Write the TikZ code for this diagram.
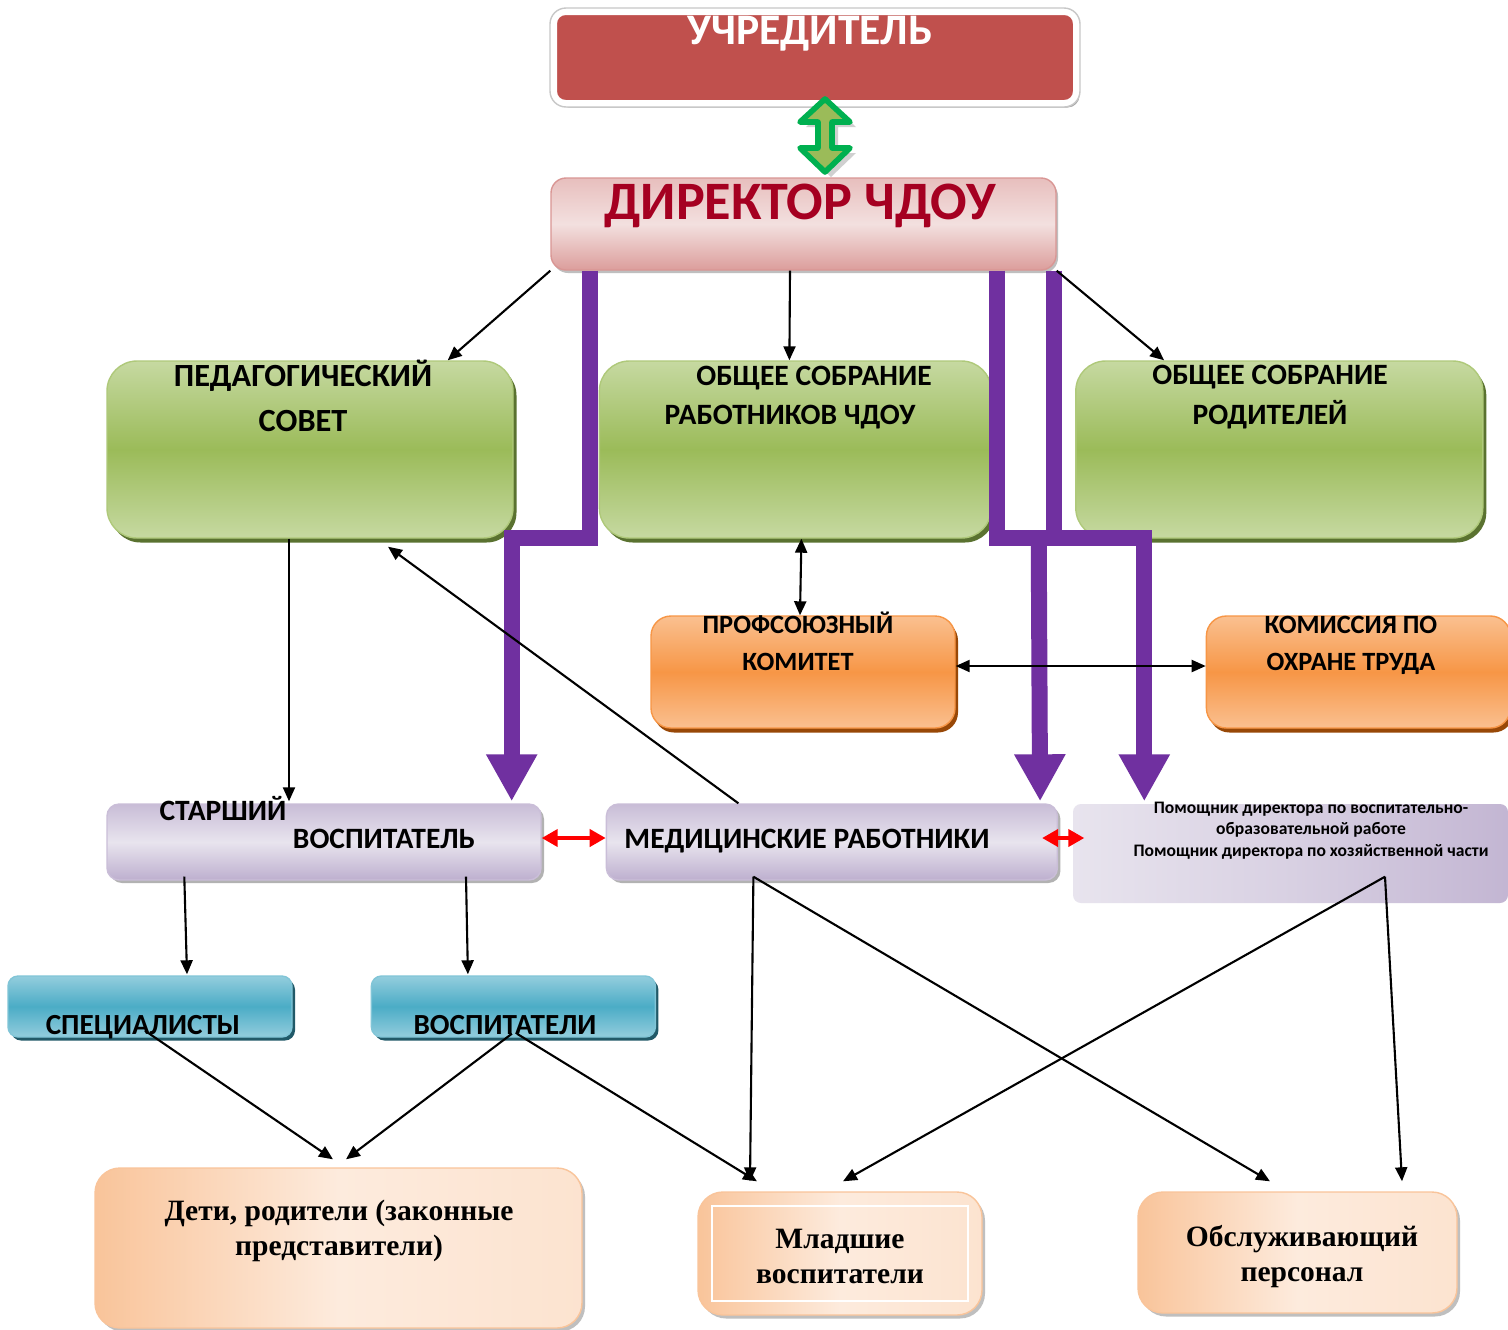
\documentclass[tikz,border=0pt]{standalone}
\usepackage{fontspec}
\setmainfont{Carlito}
\newfontfamily\serifru{Liberation Serif}
\usepackage{tikz}
\usetikzlibrary{arrows.meta,calc,positioning,shadows}
\definecolor{uchrred}{HTML}{C0504D}
\definecolor{dirtext}{HTML}{A50021}
\definecolor{dirlt}{HTML}{F3E0DF}
\definecolor{dirdk}{HTML}{D99694}
\definecolor{grn}{HTML}{9BBB59}
\definecolor{grnlt}{HTML}{C6D9A1}
\definecolor{grnsh}{HTML}{5A7230}
\definecolor{orn}{HTML}{F79646}
\definecolor{ornlt}{HTML}{FAC090}
\definecolor{ornsh}{HTML}{984807}
\definecolor{lav}{HTML}{B3A2C7}
\definecolor{lavlt}{HTML}{E8E4EE}
\definecolor{blu}{HTML}{4BACC6}
\definecolor{blult}{HTML}{93CDDD}
\definecolor{blush}{HTML}{215968}
\definecolor{pch}{HTML}{F9C49A}
\definecolor{pchlt}{HTML}{FDEBDD}
\definecolor{purp}{HTML}{7030A0}
\definecolor{zel}{HTML}{00B050}
\tikzset{
    %Define standard arrow tip
    >={Triangle[length=1.4mm,width=1.2mm]},
    %Define styles for boxes
    uchr/.style={
           rectangle,
           rounded corners=1.2mm,
           draw=white, line width=0.7mm,
           fill=uchrred,
           minimum width=52.3mm,
           minimum height=9.2mm,
           drop shadow={shadow xshift=0.3mm, shadow yshift=-0.4mm, fill=black!35, opacity=1}},
    rukov/.style={
           rectangle,
           rounded corners=1.5mm,
           draw=dirdk, thin,
           top color=dirdk!45!dirlt, bottom color=dirdk!90!dirlt, middle color=dirlt,
           minimum width=50.5mm,
           minimum height=9.2mm,
           drop shadow={shadow xshift=0.2mm, shadow yshift=-0.3mm, fill=black!25, opacity=1}},
    sovet/.style={
           rectangle,
           rounded corners=3mm,
           draw=grn!80!white, thin,
           top color=grnlt, bottom color=grnlt, middle color=grn,
           minimum height=17.7mm,
           drop shadow={shadow xshift=0.35mm, shadow yshift=-0.45mm, fill=grnsh, opacity=1}},
    profs/.style={
           rectangle,
           rounded corners=2mm,
           draw=orn, thin,
           top color=ornlt, bottom color=ornlt, middle color=orn,
           minimum width=30.4mm,
           minimum height=11.2mm,
           drop shadow={shadow xshift=0.3mm, shadow yshift=-0.45mm, fill=ornsh, opacity=1}},
    sotr/.style={
           rectangle,
           rounded corners=1.2mm,
           draw=lav!70!white, thin,
           top color=lav!60!lavlt, bottom color=lav!80!lavlt, middle color=lavlt,
           minimum height=7.6mm,
           drop shadow={shadow xshift=0.3mm, shadow yshift=-0.3mm, fill=black!30, opacity=1}},
    pomosh/.style={
           rectangle,
           rounded corners=0.8mm,
           left color=lavlt, right color=lav!70!lavlt, middle color=lavlt!70!lav,
           minimum width=43.5mm,
           minimum height=9.9mm},
    ped/.style={
           rectangle,
           rounded corners=1mm,
           draw=blu!70!white, thin,
           top color=blult, bottom color=blult, middle color=blu,
           minimum width=28.4mm,
           minimum height=6.1mm,
           drop shadow={shadow xshift=0.3mm, shadow yshift=-0.35mm, fill=blush, opacity=1}},
    nizh/.style={
           rectangle,
           rounded corners=2.5mm,
           draw=pch, thin,
           left color=pch, right color=pchlt!80!pch, middle color=pchlt,
           drop shadow={shadow xshift=0.3mm, shadow yshift=-0.35mm, fill=black!25, opacity=1}},
    % text styles
    nadp/.style={inner sep=0pt, anchor=base, align=center,
           font=\bfseries\fontsize{8.4}{11.1}\selectfont},
    ser/.style={inner sep=0pt, anchor=base, align=center,
           font=\serifru\bfseries\fontsize{8.4}{9.7}\selectfont},
    % Define arrow styles
    lin/.style={->, line width=0.6pt},
    dvu/.style={<->, line width=0.6pt},
    krasn/.style={{Triangle[length=1.6mm,width=1.7mm]}-{Triangle[length=1.6mm,width=1.7mm]},
           draw=red, line width=1.1pt},
    tolst/.style={draw=purp, line width=1.6mm}
}
\begin{document}
\begin{tikzpicture}[x=0.1mm,y=-0.1mm]
\useasboundingbox[fill=white] (0,0) rectangle (1508,1329);
% boxes
\node[uchr] (uchr) at (815,57.5) {};
\draw[black!22, line width=0.4pt, rounded corners=1.6mm] (uchr.north west) rectangle (uchr.south east);
\node[rukov] (rukov) at (803.5,224) {};
\node[sovet, minimum width=40.6mm] (psov) at (310,449.5) {};
\node[sovet, minimum width=39.2mm, right=8.5mm of psov] (osrab) {};
\node[sovet, minimum width=40.7mm, right=8.3mm of osrab] (osrod) {};
\node[profs] (prof) at (803,672) {};
\node[profs, right=25mm of prof] (kom) {};
\node[sotr, minimum width=43.4mm] (star) at (324,842) {};
\node[sotr, minimum width=45.1mm, right=6.4mm of star] (med) {};
\node[pomosh] (pom) at (1290.5,853.5) {};
\node[ped] (spec) at (150,1006.5) {};
\node[ped, right=7.8mm of spec] (vosp) {};
\node[nizh, minimum width=48.7mm, minimum height=16mm] (deti) at (338.5,1248) {};
\node[nizh, minimum width=28.4mm, minimum height=12.3mm] (mlad) at (840,1253.5) {};
\node[nizh, minimum width=31.9mm, minimum height=12.1mm] (obsl) at (1297.5,1252.5) {};
\draw[white, line width=0.6pt] ($(mlad.north west)+(15,15)$) rectangle ($(mlad.south east)+(-15,-15)$);

% texts (base = last line)
\node[nadp, text=white, font=\bfseries\fontsize{12.4}{14}\selectfont] (uchr-t) at (810,44) {УЧРЕДИТЕЛЬ};
\node[nadp, text=dirtext, font=\bfseries\fontsize{15.4}{18}\selectfont] (rukov-t) at (800,219) {ДИРЕКТОР ЧДОУ};
\node[nadp, font=\bfseries\fontsize{9.2}{12.8}\selectfont] (psov-t) at (303,431) {ПЕДАГОГИЧЕСКИЙ\\СОВЕТ};
\node[nadp] (osrab-t1) at (814,385) {ОБЩЕЕ СОБРАНИЕ};
\node[nadp] (osrab-t2) at (790,424) {РАБОТНИКОВ ЧДОУ};
\node[nadp] (osrod-t) at (1270,424) {ОБЩЕЕ СОБРАНИЕ\\РОДИТЕЛЕЙ};
\node[nadp, font=\bfseries\fontsize{7.5}{10.5}\selectfont] (prof-t) at (798,670) {ПРОФСОЮЗНЫЙ\\КОМИТЕТ};
\node[nadp, font=\bfseries\fontsize{7.5}{10.5}\selectfont] (kom-t) at (1351,670) {КОМИССИЯ ПО\\ОХРАНЕ ТРУДА};
\node[nadp] (star-t1) at (223,820) {СТАРШИЙ};
\node[nadp] (star-t2) at (384,848) {ВОСПИТАТЕЛЬ};
\node[nadp] (med-t) at (807,848) {МЕДИЦИНСКИЕ РАБОТНИКИ};
\node[nadp, font=\bfseries\fontsize{5}{6}\selectfont] (pom-t) at (1311,856) {Помощник директора по воспитательно-\\образовательной работе\\Помощник директора по хозяйственной части};
\node[nadp, font=\bfseries\fontsize{8.3}{10}\selectfont] (spec-t) at (143,1034) {СПЕЦИАЛИСТЫ};
\node[nadp, font=\bfseries\fontsize{8.3}{10}\selectfont] (vosp-t) at (505,1034) {ВОСПИТАТЕЛИ};
\node[ser] (deti-t) at (339,1255) {Дети, родители (законные\\представители)};
\node[ser] (mlad-t) at (840,1283) {Младшие\\воспитатели};
\node[ser] (obsl-t) at (1302,1281) {Обслуживающий\\персонал};

% founder <-> director
\draw[zel, line width=1.6pt, line join=round, fill=grn, shift={(uchr.south)},
      drop shadow={shadow xshift=0.6mm, shadow yshift=-0.5mm, fill=black!30, opacity=0.6}]
  (10,-8) -- (-15,15) -- (3,15) -- (3,41) -- (-15,41) -- (10,65)
  -- (35,41) -- (17,41) -- (17,15) -- (35,15) -- cycle;

% purple lines
\draw[tolst, -{Triangle[length=4.7mm,width=4.8mm]}]
  ($(rukov.south west)+(40,0)$) -- ++(0,267) -| ($(star.north east)+(-30,-2)$);
\draw[tolst, -{Triangle[length=4.7mm,width=4.8mm]}]
  ($(rukov.south east)+(-60,0)$) -- ++(0,267) -| ($(pom.north west)+(72,-2)$);
\draw[tolst] ($(rukov.south east)+(-3,0)$) -- ++(0,267);
\draw[tolst, -{Triangle[length=4.7mm,width=4.8mm]}]
  ($(rukov.south east)+(-18,267)$) -- ($(med.north east)+(-18,-2)$);

% black arrows
\draw[lin] (rukov.south west) -- ($(psov.north east)+(-66,0)$);
\draw[lin] ($(rukov.south)+(-13.5,0)$) -- ($(osrab.north)+(-6,0)$);
\draw[lin] (rukov.south east) -- ($(osrod.north west)+(89,0)$);
\draw[dvu] ($(osrab.south)+(6,0)$) -- ($(prof.north)+(-3,0)$);
\draw[dvu] ($(prof.east)+(0,-6)$) -- ($(kom.west)+(0,-6)$);
\draw[lin] ($(psov.south)+(-21,0)$) -- ($(star.north)+(-35,-2)$);
\draw[lin] ($(med.north)+(-93.5,0)$) -- ($(psov.south)+(78,8)$);
\draw[krasn] ($(star.east)+(0,-4)$) -- ($(med.west)+(0,-4)$);
\draw[krasn] ($(med.east)+(-16,-4)$) -- ($(pom.west)+(12,-15.5)$);
\draw[lin] ($(star.south west)+(78,-4)$) -- ($(spec.north)+(37,-1)$);
\draw[lin] ($(star.south)+(142,-4)$) -- ($(vosp.north)+(-45.5,-1)$);
\draw[lin] ($(spec.south)+(-5,-7)$) -- ($(deti.north)+(-5.5,-8)$);
\draw[lin] ($(vosp.south)+(-1.5,-4)$) -- ($(deti.north)+(7.5,-8)$);
\draw[lin] ($(vosp.south)+(3.5,-4)$) -- ($(mlad.north)+(-83,-10)$);
\draw[lin] ($(med.south)+(-78.5,-4)$) -- ($(mlad.north)+(-90,-10)$);
\draw[lin] ($(med.south)+(-78.5,-4)$) -- ($(obsl.north)+(-27.5,-10)$);
\draw[lin] ($(pom.south)+(94.5,-27)$) -- ($(mlad.north)+(3,-10)$);
\draw[lin] ($(pom.south)+(94.5,-27)$) -- ($(obsl.north)+(104.5,-10)$);
\end{tikzpicture}
\end{document}
